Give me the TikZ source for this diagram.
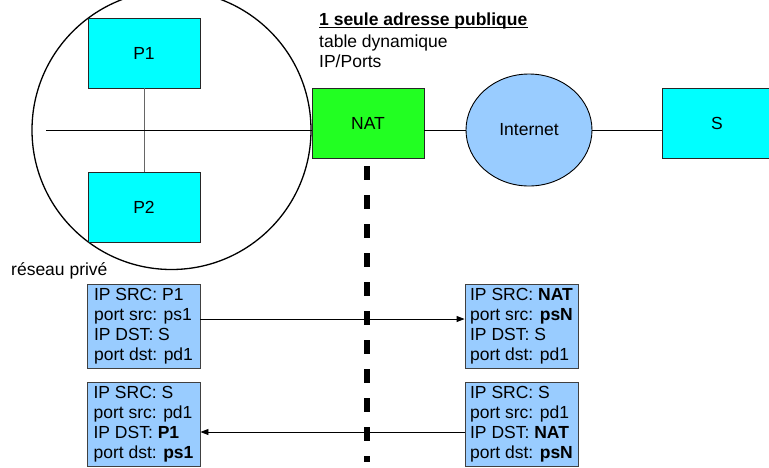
\documentclass[tikz,border=0pt]{standalone}
\usepackage{fontspec}
\setmainfont{Liberation Sans}
\usetikzlibrary{shapes.geometric,arrows.meta,calc}
\definecolor{cyanbox}{HTML}{00FFFF}
\definecolor{natgreen}{HTML}{22FF22}
\definecolor{skyblue}{HTML}{99CCFF}
\begin{document}
\begin{tikzpicture}[x=1pt,y=-1pt,
  font=\fontsize{17.5}{20}\selectfont,
  host/.style={draw=black!85, line width=0.9pt, fill=cyanbox, minimum width=112pt, minimum height=70pt, inner sep=0pt},
  pkt/.style={draw=black!75, line width=0.9pt, fill=skyblue, minimum width=113pt, minimum height=84pt, align=left, inner sep=0pt},
  link/.style={draw=black, line width=0.9pt},
  arr/.style={draw=black, line width=0.9pt, -{Triangle[length=8pt,width=6pt]}},
  lbl/.style={anchor=base west, inner sep=0pt}]
\clip (0,0) rectangle (769,467);
\fill[white] (0,0) rectangle (769,467);
% private network
\draw[line width=1.3pt] (171.5,130) circle [radius=139.5];
\node[host] (p1) at (144,53) {P1};
\node[host] (p2) at (144,207) {P2};
\draw[draw=black!60, line width=0.9pt] (p1.south) -- (p2.north);
\node[host, fill=natgreen] (nat) at (368,123) {NAT};
\coordinate (lan) at (46,130);
\draw[link] (lan) -- (lan -| nat.west);
\node[draw=black, line width=0.9pt, fill=skyblue, ellipse, minimum width=126pt, minimum height=112pt, inner sep=0pt] (inet) at (529,130) {Internet};
\node[host, minimum width=110pt] (s) at (717,123) {S};
\draw[link] (nat.east |- inet.west) -- (inet.west);
\draw[link] (inet.east) -- (inet.east -| s.west);
% labels
\node[lbl] (t1) at (319,25) {\textbf{1 seule adresse publique}};
\draw[line width=1.1pt] (319,27.5) -- (t1.east |- 0,27.5);
\node[lbl] (t2) at (319,47) {table dynamique};
\node[lbl] (t3) at (319,67) {IP/Ports};
\node[lbl] (priv) at (11,275) {réseau privé};
% packets
\node[pkt] (lt) at (143.5,326) {IP SRC: P1\\port src: ps1\\IP DST: S\\port dst: pd1};
\node[pkt] (rt) at (521.5,326) {IP SRC: \textbf{NAT}\\port src: \textbf{psN}\\IP DST: S\\port dst: pd1};
\node[pkt] (lb) at (143.5,424) {IP SRC: S\\port src: pd1\\IP DST: \textbf{P1}\\port dst: \textbf{ps1}};
\node[pkt] (rb) at (521.5,424) {IP SRC: S\\port src: pd1\\IP DST: \textbf{NAT}\\port dst: \textbf{psN}};
\draw[arr] ($(lt.east)+(0,-7)$) -- ($(rt.west)+(0,-7)$);
\draw[arr] ($(rb.west)+(0,8)$) -- ($(lb.east)+(0,8)$);
% boundary
\coordinate (dtop) at (367,166);
\coordinate (dbot) at (367,462);
\draw[line width=6pt, dash pattern=on 14pt off 15pt] (dtop) -- (dbot);
\end{tikzpicture}
\end{document}
